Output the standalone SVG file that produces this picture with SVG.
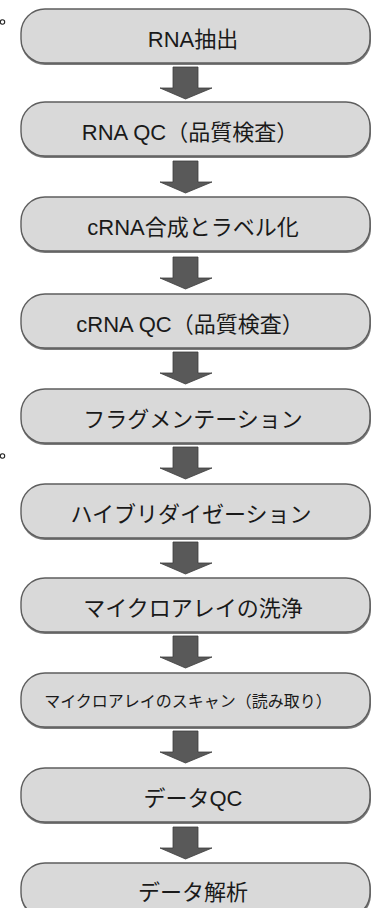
<svg xmlns="http://www.w3.org/2000/svg" width="373" height="908" viewBox="0 0 373 908">
<style>
.sh{fill:#7a7a7a;}
.bx{fill:#d9d9d9;stroke:#5e5e5e;stroke-width:1.4;}
.t{font-family:"Liberation Sans","Noto Sans CJK JP",sans-serif;font-size:22px;fill:#1a1a1a;text-anchor:middle;dominant-baseline:central;}
.ar{fill:#595959;stroke:#3d3d3d;stroke-width:0.8;}
.dot{fill:none;stroke:#222;stroke-width:1.1;}
</style>
<defs>
<g id="arrow"><path class="ar" d="M173,0 H198 V21 H212 L185.5,32 L160,21 H173 Z"/></g>
</defs>
<circle class="dot" cx="2.5" cy="22" r="2.2"/>
<circle class="dot" cx="2.5" cy="456" r="2.2"/>
<g id="connectors">
<use href="#arrow" y="67"/>
<use href="#arrow" y="161"/>
<use href="#arrow" y="257"/>
<use href="#arrow" y="352"/>
<use href="#arrow" y="447"/>
<use href="#arrow" y="542"/>
<use href="#arrow" y="636"/>
<use href="#arrow" y="731"/>
<use href="#arrow" y="827"/>
</g>
<g id="n1"><rect class="sh" x="21" y="11" width="350" height="54" rx="24"/><rect class="bx" x="21" y="9" width="349" height="54" rx="24"/><text class="t" x="193" y="39">RNA抽出</text></g>
<g id="n2"><rect class="sh" x="21" y="104" width="350" height="54" rx="24"/><rect class="bx" x="21" y="102" width="349" height="54" rx="24"/><text class="t" x="190" y="132">RNA QC（品質検査）</text></g>
<g id="n3"><rect class="sh" x="21" y="199" width="350" height="54" rx="24"/><rect class="bx" x="21" y="197" width="349" height="54" rx="24"/><text class="t" x="193" y="227">cRNA合成とラベル化</text></g>
<g id="n4"><rect class="sh" x="21" y="296" width="350" height="54" rx="24"/><rect class="bx" x="21" y="294" width="349" height="54" rx="24"/><text class="t" x="190" y="324">cRNA QC（品質検査）</text></g>
<g id="n5"><rect class="sh" x="21" y="391" width="350" height="54" rx="24"/><rect class="bx" x="21" y="389" width="349" height="54" rx="24"/><text class="t" x="193" y="419">フラグメンテーション</text></g>
<g id="n6"><rect class="sh" x="21" y="486" width="350" height="54" rx="24"/><rect class="bx" x="21" y="484" width="349" height="54" rx="24"/><text class="t" x="191" y="514">ハイブリダイゼーション</text></g>
<g id="n7"><rect class="sh" x="21" y="580" width="350" height="54" rx="24"/><rect class="bx" x="21" y="578" width="349" height="54" rx="24"/><text class="t" x="193" y="608">マイクロアレイの洗浄</text></g>
<g id="n8"><rect class="sh" x="21" y="675" width="350" height="54" rx="24"/><rect class="bx" x="21" y="673" width="349" height="54" rx="24"/><text class="t" x="188" y="701" style="font-size:16px">マイクロアレイのスキャン（読み取り）</text></g>
<g id="n9"><rect class="sh" x="21" y="770" width="350" height="54" rx="24"/><rect class="bx" x="21" y="768" width="349" height="54" rx="24"/><text class="t" x="193" y="798">データQC</text></g>
<g id="n10"><rect class="sh" x="21" y="865" width="350" height="54" rx="24"/><rect class="bx" x="21" y="863" width="349" height="54" rx="24"/><text class="t" x="193" y="892">データ解析</text></g>
</svg>
